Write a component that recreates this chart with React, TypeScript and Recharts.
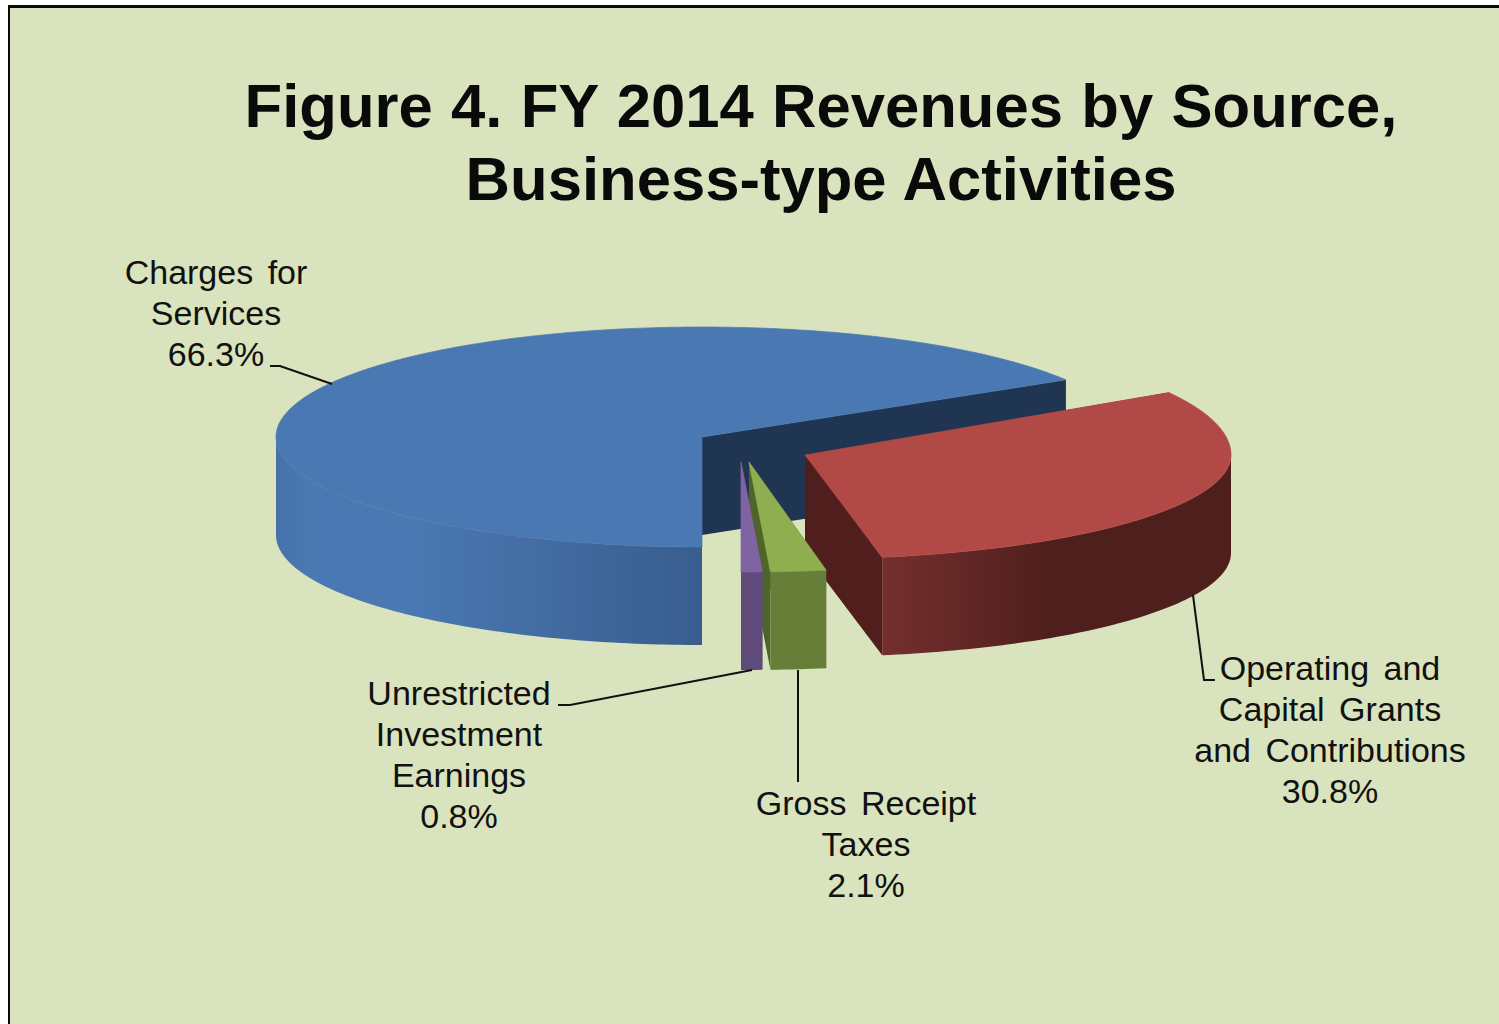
import { PieChart, Pie } from "recharts"

const categories = ["Charges for Services", "Operating and Capital Grants and Contributions", "Gross Receipt Taxes", "Unrestricted Investment Earnings"]
const shares = [66.3, 30.8, 2.1, 0.8]
const titleLines = ["Figure 4. FY 2014 Revenues by Source,", "Business-type Activities"]

const revenueData = categories.map((name, i) => ({ name, value: shares[i] }))

// flattened pie settings
const CX = 702
const CY = 437
const RX = 426
const DEPTH = 98
const FONT = "'Liberation Sans', Arial, sans-serif"

// ryUp / ryDown: the red slice is drawn with a bit of perspective in the original
const sliceLook = [
  { dx: 0, dy: 0, ryUp: 110, ryDown: 110, top: "#4a78b2", wall: "#1f3552", side: [[0, "#4672aa"], [0.08, "#4a78b2"], [0.32, "#4a78b2"], [1, "#395d8e"]] },
  { dx: 103, dy: 18, ryUp: 120, ryDown: 104, top: "#b14a47", wall: "#501e1c", side: [[0, "#752f2e"], [0.48, "#4f1f1d"], [1, "#4f1f1d"]] },
  { dx: 47, dy: 25, ryUp: 110, ryDown: 110, top: "#8fae50", wall: "#4f6428", side: [[0, "#667e37"], [1, "#667e37"]] },
  { dx: 39, dy: 25, ryUp: 110, ryDown: 110, top: "#8064a2", wall: "#5f4a7c", side: [[0, "#5f4a7c"], [1, "#5f4a7c"]] },
]

const labelLook = [
  { x: 216, y: 284, lines: ["Charges for", "Services", "66.3%"], leader: "270,366 280,366 332,384" },
  { x: 1330, y: 680, lines: ["Operating and", "Capital Grants", "and Contributions", "30.8%"], leader: "1193,595 1204,680 1215,680" },
  { x: 866, y: 815, lines: ["Gross Receipt", "Taxes", "2.1%"], leader: "798,670 798,782" },
  { x: 459, y: 705, lines: ["Unrestricted", "Investment", "Earnings", "0.8%"], leader: "558,705 570,705 752,670" },
]

const rad = (deg: number) => (deg * Math.PI) / 180

function SliceShape(props: any) {
  const { startAngle, endAngle, index } = props
  const look = sliceLook[index]
  const cx = props.cx + look.dx
  const cy = props.cy + look.dy
  const rx = props.outerRadius
  const at = (deg: number) => {
    const s = Math.sin(rad(deg))
    return { x: cx + rx * Math.cos(rad(deg)), y: cy - (s > 0 ? look.ryUp : look.ryDown) * s }
  }
  // walk the rim in small steps since the curve is not one ellipse
  const walk = (from: number, to: number, drop = 0) => {
    const steps = Math.max(2, Math.ceil(Math.abs(from - to)))
    const pts: string[] = []
    for (let i = 0; i <= steps; i++) {
      const p = at(from + ((to - from) * i) / steps)
      pts.push(`${p.x},${p.y + drop}`)
    }
    return pts.join(" L")
  }
  const a = at(startAngle)
  const b = at(endAngle)
  const top = `M${cx},${cy} L${walk(startAngle, endAngle)} Z`
  const cutWall = (p: { x: number; y: number }) =>
    `M${cx},${cy} L${p.x},${p.y} L${p.x},${p.y + DEPTH} L${cx},${cy + DEPTH} Z`

  // the part of the rim that faces the viewer
  const ranges = [[-180, 0], [180, 360]]
    .map(([lo, hi]) => [Math.max(endAngle, lo), Math.min(startAngle, hi)])
    .filter(([lo, hi]) => hi > lo)
  const gradId = `side-${index}`
  let rim = ""
  let left = cx
  let right = cx
  ranges.forEach(([lo, hi]) => {
    rim += `M${walk(hi, lo)} L${walk(lo, hi, DEPTH)} Z `
    left = Math.min(at(hi).x, at(lo).x)
    right = Math.max(at(hi).x, at(lo).x)
  })

  return (
    <g>
      <defs>
        <linearGradient id={gradId} gradientUnits="userSpaceOnUse" x1={left} x2={right} y1={0} y2={0}>
          {look.side.map(([offset, color]) => (
            <stop key={String(offset)} offset={offset as number} stopColor={color as string} />
          ))}
        </linearGradient>
      </defs>
      <path d={cutWall(a)} fill={look.wall} />
      <path d={cutWall(b)} fill={look.wall} />
      <path d={rim} fill={`url(#${gradId})`} />
      <path d={top} fill={look.top} stroke={look.top} strokeWidth={0.7} />
    </g>
  )
}

function SliceLabel(props: any) {
  const look = labelLook[props.index]
  return (
    <g>
      <polyline points={look.leader} fill="none" stroke="#111" strokeWidth={2} />
      <text x={look.x} y={look.y} textAnchor="middle" fontFamily={FONT} fontSize={34} wordSpacing={5} fill="#111">
        {look.lines.map((line, i) => (
          <tspan key={line} x={look.x} y={look.y + i * 41}>
            {line}
          </tspan>
        ))}
      </text>
    </g>
  )
}

export default function App() {
  return (
    <div style={{ position: "absolute", left: 0, top: 0, width: 1499, height: 1024, background: "#fff", overflow: "hidden" }}>
      <div
        style={{
          position: "absolute",
          left: 8,
          top: 5,
          width: 1491,
          height: 1019,
          boxSizing: "border-box",
          background: "#d9e3bd",
          borderTop: "3px solid #0a0a0a",
          borderLeft: "2px solid #0a0a0a",
        }}
      />
      {titleLines.map((line, i) => (
        <div
          key={line}
          style={{
            position: "absolute",
            left: 0,
            top: 67 + i * 73,
            width: 1642,
            textAlign: "center",
            fontFamily: FONT,
            fontWeight: 700,
            fontSize: 61.6,
            wordSpacing: 1.2,
            lineHeight: "78px",
            color: "#0a0a0a",
            whiteSpace: "nowrap",
          }}
        >
          {line}
        </div>
      ))}
      <div style={{ position: "absolute", left: 0, top: 0 }}>
        <PieChart width={1499} height={1024} margin={{ top: 0, right: 0, bottom: 0, left: 0 }}>
          <Pie
            data={revenueData}
            dataKey="value"
            nameKey="name"
            cx={CX}
            cy={CY}
            innerRadius={0}
            outerRadius={RX}
            startAngle={270}
            endAngle={-90}
            stroke="none"
            isAnimationActive={false}
            shape={SliceShape}
            label={SliceLabel}
            labelLine={false}
          />
        </PieChart>
      </div>
    </div>
  )
}
